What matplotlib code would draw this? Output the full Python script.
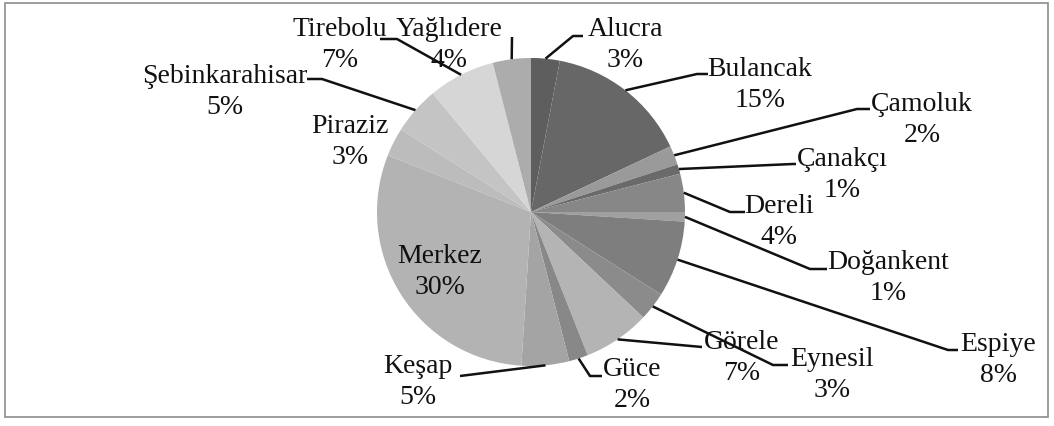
import numpy as np
import matplotlib
matplotlib.use("Agg")
import matplotlib.pyplot as plt
from matplotlib.patches import Rectangle

# ---- data ----
districts = ["Alucra", "Bulancak", "Çamoluk", "Çanakçı", "Dereli", "Doğankent",
             "Espiye", "Eynesil", "Görele", "Güce", "Keşap", "Merkez",
             "Piraziz", "Şebinkarahisar", "Tirebolu", "Yağlıdere"]
shares = [3, 15, 2, 1, 4, 1, 8, 3, 7, 2, 5, 30, 3, 5, 7, 4]
slice_colors = ["#5e5e5e", "#676767", "#9a9a9a", "#6a6a6a", "#878787", "#a0a0a0",
                "#7e7e7e", "#8b8b8b", "#b4b4b4", "#888888", "#a4a4a4", "#b3b3b3",
                "#bcbcbc", "#c4c4c4", "#d6d6d6", "#acacac"]

# ---- layout (pixel coordinates, y measured from top) ----
W, H = 1054, 427
CX, CY, R = 531, 213, 154
label_pos = {
    "Alucra": (625, 45), "Bulancak": (760, 85), "Çamoluk": (922, 120),
    "Çanakçı": (842, 175), "Dereli": (779, 222), "Doğankent": (888, 278),
    "Espiye": (998, 360), "Eynesil": (832, 375), "Görele": (742, 358),
    "Güce": (632, 385), "Keşap": (418, 382), "Merkez": (440, 272),
    "Piraziz": (350, 142), "Şebinkarahisar": (225, 92), "Tirebolu": (340, 45),
    "Yağlıdere": (449, 45),
}
leader = {  # elbow point, end point
    "Alucra": ((573, 37), (583, 37)), "Bulancak": ((697, 75), (708, 75)),
    "Çamoluk": ((857, 110), (870, 110)), "Çanakçı": ((793, 165), (796, 165)),
    "Dereli": ((730, 213), (745, 213)), "Doğankent": ((810, 270), (827, 270)),
    "Espiye": ((948, 351), (958, 351)), "Eynesil": ((773, 366), (788, 366)),
    "Görele": ((702, 348), (702, 348)), "Güce": ((590, 377), (602, 377)),
    "Keşap": ((460, 377), (460, 377)),
    "Şebinkarahisar": ((322, 80), (307, 80)), "Tirebolu": ((397, 40), (380, 40)),
    "Yağlıdere": ((512, 38), (512, 38)),
}

def P(x, y):
    return x, H - y

plt.rcParams['font.family'] = ['Liberation Serif', 'DejaVu Serif']

fig = plt.figure(figsize=(W / 100, H / 100), dpi=100)
ax = fig.add_axes([0, 0, 1, 1])
ax.pie(shares, colors=slice_colors, startangle=90, counterclock=False,
       center=P(CX, CY), radius=R, wedgeprops=dict(linewidth=0))
ax.set_xlim(0, W)
ax.set_ylim(0, H)
ax.set_aspect('equal')
ax.axis('off')

# frame around chart
ax.add_patch(Rectangle(P(5, 418), 1043, 414, fill=False, edgecolor="#8c8c8c",
                       linewidth=1.2))

total = sum(shares)
cum = np.cumsum([0] + shares)
for i, name in enumerate(districts):
    mid = (cum[i] + cum[i + 1]) / 2 / total * 360.0
    ax_x = CX + R * np.sin(np.radians(mid))
    ax_y = CY - R * np.cos(np.radians(mid))
    if name in leader:
        (ex, ey), (fx, fy) = leader[name]
        xs = [ax_x, ex, fx]
        ys = [H - ax_y, H - ey, H - fy]
        ax.plot(xs, ys, color="#111111", linewidth=1.8, solid_capstyle='butt')
    lx, ly = label_pos[name]
    ax.text(*P(lx, ly), f"{name}\n{shares[i]}%", ha='center', va='center',
            multialignment='center', fontsize=20, color="#111111",
            linespacing=1.28)

fig.savefig("out.png", dpi=100)
